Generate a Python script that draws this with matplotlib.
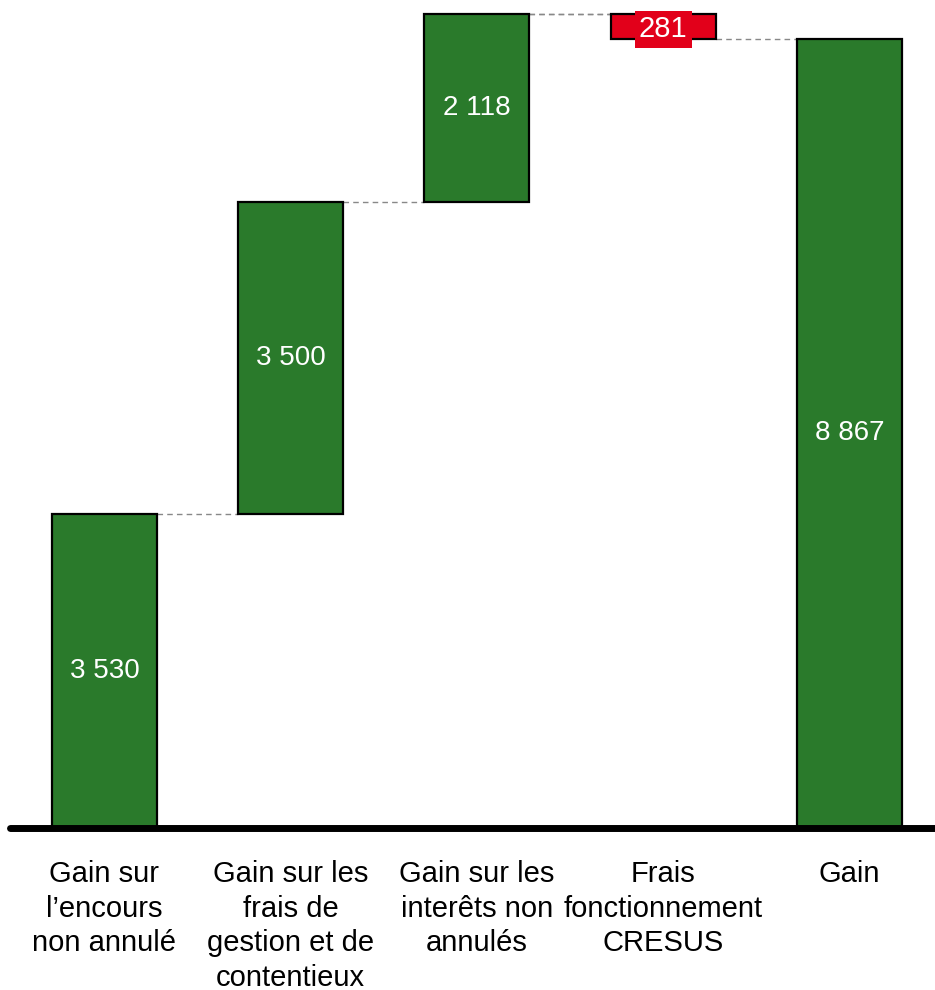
import matplotlib
matplotlib.use("Agg")
import matplotlib.pyplot as plt

categories = ["Gain sur\nl\u2019encours\nnon annulé",
              "Gain sur les\nfrais de\ngestion et de\ncontentieux",
              "Gain sur les\ninterêts non\nannulés",
              "Frais\nfonctionnement\nCRESUS",
              "Gain"]
values = [3530, 3500, 2118, -281]
total = 8867
labels = ["3 530", "3 500", "2 118", "281", "8 867"]

plt.rcParams['font.family'] = ['Liberation Sans', 'DejaVu Sans']

GREEN = "#2a7a2b"
RED = "#e2001a"

fig = plt.figure(figsize=(9.35, 9.9), dpi=100)
ax = fig.add_axes([10/935, 162/990, 925/935, 828/990])

w = 0.564
bottoms, heights, colors = [], [], []
cum = 0
levels = []
for v in values:
    if v >= 0:
        bottoms.append(cum); heights.append(v); colors.append(GREEN)
    else:
        bottoms.append(cum + v); heights.append(-v); colors.append(RED)
    cum += v
    levels.append(cum)
bottoms.append(0); heights.append(total); colors.append(GREEN)

x = list(range(len(categories)))
ax.bar(x, heights, bottom=bottoms, width=w, color=colors, edgecolor="black",
       linewidth=1.6, zorder=3)

# connectors: from right of bar i to left of bar i+1 at running total
for i in range(len(values)):
    lvl = levels[i]
    ax.plot([i + w/2, i + 1 - w/2], [lvl, lvl], ls=(0, (4, 3)),
            color="#888888", lw=1, zorder=2)
# connector from top of bar 3 to top of red bar
ax.plot([2 + w/2, 3 - w/2], [levels[2], levels[2]], ls=(0, (4, 3)),
        color="#888888", lw=1, zorder=2)

for i, (b, h, lab) in enumerate(zip(bottoms, heights, labels)):
    if colors[i] == RED:
        ax.text(i, b + h/2, lab, ha="center", va="center_baseline", color="white",
                fontsize=21, zorder=4,
                bbox=dict(boxstyle="square,pad=0.14", fc=RED, ec="none"))
    else:
        ax.text(i, b + h/2, lab, ha="center", va="center", color="white",
                fontsize=20, zorder=4)

ax.set_xlim(-0.507, 4.459)
ax.set_ylim(0, 9305)
ax.set_xticks(x)
ax.set_xticklabels(categories, fontsize=21, linespacing=1.3)
ax.tick_params(axis="x", length=0, pad=23)
ax.set_yticks([])
for s in ["top", "right", "left"]:
    ax.spines[s].set_visible(False)
ax.spines["bottom"].set_linewidth(5)
ax.spines["bottom"].set_capstyle("round")
ax.spines["bottom"].set_zorder(5)

fig.savefig("out.png", dpi=100)
